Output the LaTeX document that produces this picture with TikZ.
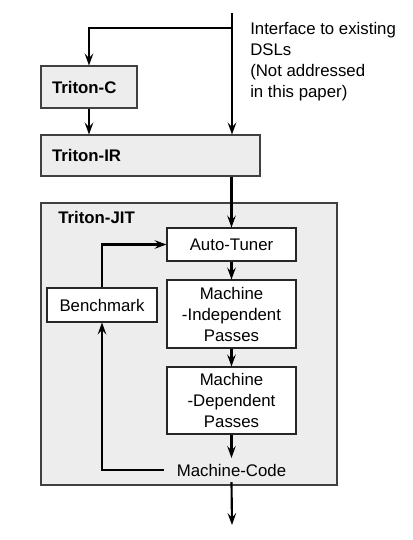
\documentclass[tikz,border=0pt]{standalone}
\usepackage{fontspec}
\setmainfont{Liberation Sans}
\usetikzlibrary{arrows.meta}

\begin{document}
\begin{tikzpicture}[x=0.75pt,y=-0.75pt,
    font=\fontsize{12.6}{15.75}\selectfont,
    graybox/.style={draw=black!75, fill=black!7, line width=0.8pt},
    stagebox/.style={graybox, font=\fontsize{12.6}{15.75}\selectfont\bfseries, align=left, inner xsep=8.25pt, minimum height=31pt},
    passbox/.style={draw=black!85, fill=white, line width=0.8pt, align=center, minimum width=96.75pt, inner sep=2pt},
    flow/.style={black, line width=1.6pt, -{Stealth[length=9pt, width=6.5pt, inset=3.5pt]}},
    wire/.style={black, line width=1.6pt}]
       \useasboundingbox (0,0) rectangle (412,540);

       \node[stagebox, text width=55.5pt, minimum height=31.5pt] (tritonc) at (89,87) {Triton-C};
       \node[stagebox, text width=147.75pt, minimum height=30.75pt] (tritonir) at (150.5,155.5) {Triton-IR};
       \node[graybox, minimum width=222pt, minimum height=211.5pt] (jit) at (189,344) {};
       \node[anchor=west, inner sep=0pt, font=\fontsize{12.6}{15.75}\selectfont\bfseries] (jitlabel) at (58,217) {Triton-JIT};

       \node[passbox, minimum height=24.75pt] (autotuner) at (231.5,244.5) {Auto-Tuner};
       \node[passbox, minimum height=51pt] (indep) at (231.5,314) {Machine\\-Independent\\Passes};
       \node[passbox, minimum height=50.25pt] (dep) at (231.5,400.5) {Machine\\-Dependent\\Passes};
       \node[inner xsep=9.75pt, inner ysep=4.2pt] (code) at (231.5,470) {Machine-Code};
       \node[passbox, minimum width=82.5pt, minimum height=25.5pt] (bench) at (102,305) {Benchmark};

       \node[anchor=north west, inner sep=0pt, align=left] (dsltext) at (250,22) {Interface to existing\\DSLs\\(Not addressed\\in this paper)};

       \coordinate (dsl) at (232,13);
       \coordinate (split) at (232,28);
       \coordinate (out) at (232,525);

       \draw[flow] (dsl) -- (dsl |- tritonir.north);
       \draw[flow] (split) -| (tritonc.north);
       \draw[flow] (tritonc.south) -- (tritonc.south |- tritonir.north);
       \draw[flow] (autotuner.north |- tritonir.south) -- (autotuner.north);
       \draw[flow] (autotuner.south) -- (indep.north);
       \draw[flow] (indep.south) -- (dep.north);
       \draw[flow] (dep.south) -- (code.north);
       \draw[flow] (code.west) -| (bench.south);
       \draw[flow] (bench.north) |- (autotuner.west);
       \draw[flow] (code.south) -- (out);
\end{tikzpicture}
\end{document}
